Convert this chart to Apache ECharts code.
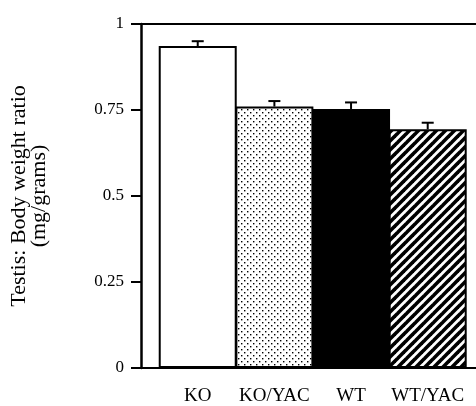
<!DOCTYPE html>
<html>
<head>
<meta charset="utf-8">
<script src="https://cdn.jsdelivr.net/npm/echarts@6/dist/echarts.min.js"></script>
<style>html,body{margin:0;padding:0;background:#fff}#c{width:476px;height:406px}</style>
</head>
<body>
<div id="c"></div>
<script>
const categories = ['KO', 'KO/YAC', 'WT', 'WT/YAC'];
const means = [0.936, 0.760, 0.753, 0.694];
const upperErr = [0.950, 0.776, 0.772, 0.713];
const yTicks = [0, 0.25, 0.5, 0.75, 1];

function dotPattern() {
  const c = document.createElement('canvas');
  c.width = 6; c.height = 6;
  const g = c.getContext('2d');
  g.fillStyle = '#fff'; g.fillRect(0, 0, 6, 6);
  g.fillStyle = '#000';
  g.fillRect(1, 1, 1.4, 1.4);
  g.fillRect(4, 4, 1.4, 1.4);
  return c;
}
function stripePattern() {
  const s = 9;
  const c = document.createElement('canvas');
  c.width = s; c.height = s;
  const g = c.getContext('2d');
  g.fillStyle = '#fff'; g.fillRect(0, 0, s, s);
  g.strokeStyle = '#000'; g.lineWidth = 3.6; g.lineCap = 'square';
  [0, s, 2 * s].forEach(k => {
    g.beginPath(); g.moveTo(k + 5, -5); g.lineTo(k - s - 5, s + 5); g.stroke();
  });
  return c;
}
const fills = ['#fff', {image: dotPattern(), repeat: 'repeat'}, '#000', {image: stripePattern(), repeat: 'repeat'}];

const chart = echarts.init(document.getElementById('c'), null, {renderer: 'canvas'});
const font = '"Liberation Serif", "Times New Roman", serif';
const xMin = -0.74, xMax = 3.63;
chart.setOption({
  animation: false,
  backgroundColor: '#fff',
  grid: {left: 138, top: 24, bottom: 36, right: 0, show: false, containLabel: false},
  xAxis: [{
    type: 'value', min: xMin, max: xMax,
    splitLine: {show: false},
    axisLine: {show: true, onZero: false, lineStyle: {color: '#000', width: 2}},
    axisTick: {show: false},
    axisLabel: {
      show: true, customValues: categories.map((_, i) => i),
      formatter: v => categories[Math.round(v)] || '',
      color: '#000', fontFamily: font, fontSize: 19, margin: 19
    }
  }, {
    type: 'value', position: 'top', min: xMin, max: xMax,
    splitLine: {show: false},
    axisLine: {show: true, onZero: false, lineStyle: {color: '#000', width: 2}},
    axisTick: {show: false},
    axisLabel: {show: false}
  }],
  yAxis: {
    type: 'value', min: 0, max: 1, interval: 0.25,
    name: 'Testis: Body weight ratio\n(mg/grams)',
    nameLocation: 'middle', nameRotate: 90, nameGap: 92,
    nameTextStyle: {color: '#000', fontFamily: font, fontSize: 22, lineHeight: 20},
    splitLine: {show: false},
    axisLine: {show: true, onZero: false, lineStyle: {color: '#000', width: 2.5}},
    axisTick: {show: true, inside: false, length: 10, lineStyle: {color: '#000', width: 2}},
    axisLabel: {color: '#000', fontFamily: font, fontSize: 17, margin: 17}
  },
  series: [
    {
      type: 'bar', barWidth: 78, xAxisIndex: 0,
      data: means.map((v, i) => ({value: [i, v], itemStyle: {color: fills[i]}})),
      itemStyle: {borderColor: '#000', borderWidth: 2},
      z: 2
    },
    {
      type: 'custom', xAxisIndex: 0,
      data: means.map((v, i) => [i, v, upperErr[i]]),
      encode: {x: 0, y: [1, 2]},
      z: 3,
      renderItem: (params, api) => {
        const x = api.value(0);
        const p0 = api.coord([x, api.value(1)]);
        const p1 = api.coord([x, api.value(2)]);
        const st = {stroke: '#000', lineWidth: 2};
        return {type: 'group', children: [
          {type: 'line', shape: {x1: p0[0], y1: p0[1], x2: p1[0], y2: p1[1]}, style: st},
          {type: 'line', shape: {x1: p1[0] - 6, y1: p1[1], x2: p1[0] + 6, y2: p1[1]}, style: st}
        ]};
      }
    }
  ]
});
</script>
</body>
</html>
